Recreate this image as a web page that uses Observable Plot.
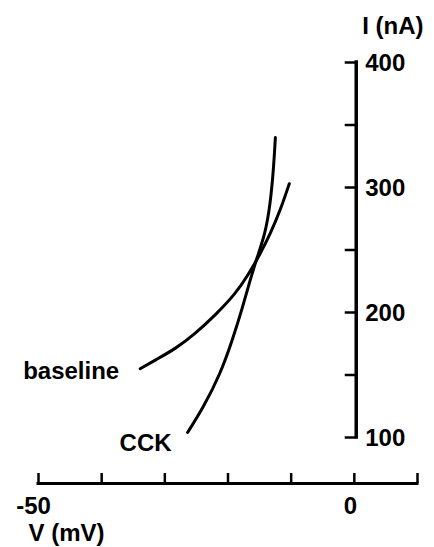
<!DOCTYPE html>
<html>
<head>
<meta charset="utf-8">
<script src="https://cdn.jsdelivr.net/npm/d3@7"></script>
<script src="https://cdn.jsdelivr.net/npm/@observablehq/plot@0.6"></script>
<style>
  html, body { margin: 0; padding: 0; background: #fff; }
  #chart svg { display: block; }
</style>
</head>
<body>
<div id="chart"></div>
<script>
// Current–voltage relations, before and after CCK
const baselineV = [-33.9, -31.5, -28.3, -25.2, -22.0, -18.8, -16.8, -14.9, -13.3, -11.7, -10.3];
const baselineI = [155, 162, 171, 183, 198, 215, 230, 247, 263, 282, 303];
const cckV = [-26.4, -23.9, -21.2, -19.3, -17.7, -16.5, -15.4, -14.1, -13.3, -12.8, -12.5];
const cckI = [104, 124, 151, 178, 204, 226, 244, 263, 287, 314, 340];

const xTicks = [-50, -40, -30, -20, -10, 0, 10];
const xTickLabels = ["-50", "0"];
const yTicks = [100, 150, 200, 250, 300, 350, 400];
const yTickLabels = [100, 200, 300, 400];

// where the two axes cross the plane
const xAxisAt = 63.2;  // current (nA) at which the V axis is drawn
const yAxisAt = 0.3;   // voltage (mV) at which the I axis is drawn

const baseline = baselineV.map((v, i) => ({v, i: baselineI[i]}));
const cck = cckV.map((v, i) => ({v, i: cckI[i]}));

const font = "'Liberation Sans', Arial, Helvetica, sans-serif";
const ink = "#000";
const label = {fontSize: 24, fontWeight: "bold", fill: ink};

const chart = Plot.plot({
  width: 434,
  height: 547,
  marginLeft: 38,
  marginRight: 17,
  marginTop: 62,
  marginBottom: 110,
  x: {domain: [-50, 10], axis: null},
  y: {domain: [100, 400], axis: null},
  style: {fontFamily: font, background: "#fff"},
  marks: [
    // V axis
    Plot.ruleY([xAxisAt], {x1: -50, x2: 10, stroke: ink, strokeWidth: 3, strokeLinecap: "square"}),
    Plot.ruleX(xTicks, {x: d => d, y1: xAxisAt, y2: xAxisAt, insetTop: -10, stroke: ink, strokeWidth: 2.5}),
    Plot.text([xTickLabels[0]], {x: +xTickLabels[0], y: xAxisAt, text: d => d, dx: -5, dy: 23, ...label}),
    Plot.text([xTickLabels[1]], {x: +xTickLabels[1], y: xAxisAt, text: d => d, dx: -4, dy: 23, ...label}),
    Plot.text(["V (mV)"], {x: -50, y: xAxisAt, text: d => d, textAnchor: "start", dx: -10, dy: 50, ...label}),

    // I axis
    Plot.ruleX([yAxisAt], {y1: 100, y2: 400, stroke: ink, strokeWidth: 3.5, strokeLinecap: "square"}),
    Plot.ruleY(yTicks, {y: d => d, x1: yAxisAt, x2: yAxisAt, insetLeft: -11, stroke: ink, strokeWidth: 2.5}),
    Plot.text(yTickLabels, {x: yAxisAt, y: d => d, text: d => String(d), textAnchor: "start", dx: 9, dy: 1, ...label}),
    Plot.text(["I (nA)"], {x: yAxisAt, y: 400, text: d => d, textAnchor: "start", dx: 6, dy: -36, ...label}),

    // curves
    Plot.line(baseline, {x: "v", y: "i", curve: "basis", stroke: ink, strokeWidth: 3, strokeLinecap: "round"}),
    Plot.line(cck, {x: "v", y: "i", curve: "basis", stroke: ink, strokeWidth: 3, strokeLinecap: "round"}),

    // curve labels
    Plot.text([baseline[0]], {x: "v", y: "i", text: () => "baseline", textAnchor: "end", dx: -21, dy: 3, ...label}),
    Plot.text([cck[0]], {x: "v", y: "i", text: () => "CCK", textAnchor: "end", dx: -16, dy: 11, ...label})
  ]
});

document.getElementById("chart").appendChild(chart);
</script>
</body>
</html>
